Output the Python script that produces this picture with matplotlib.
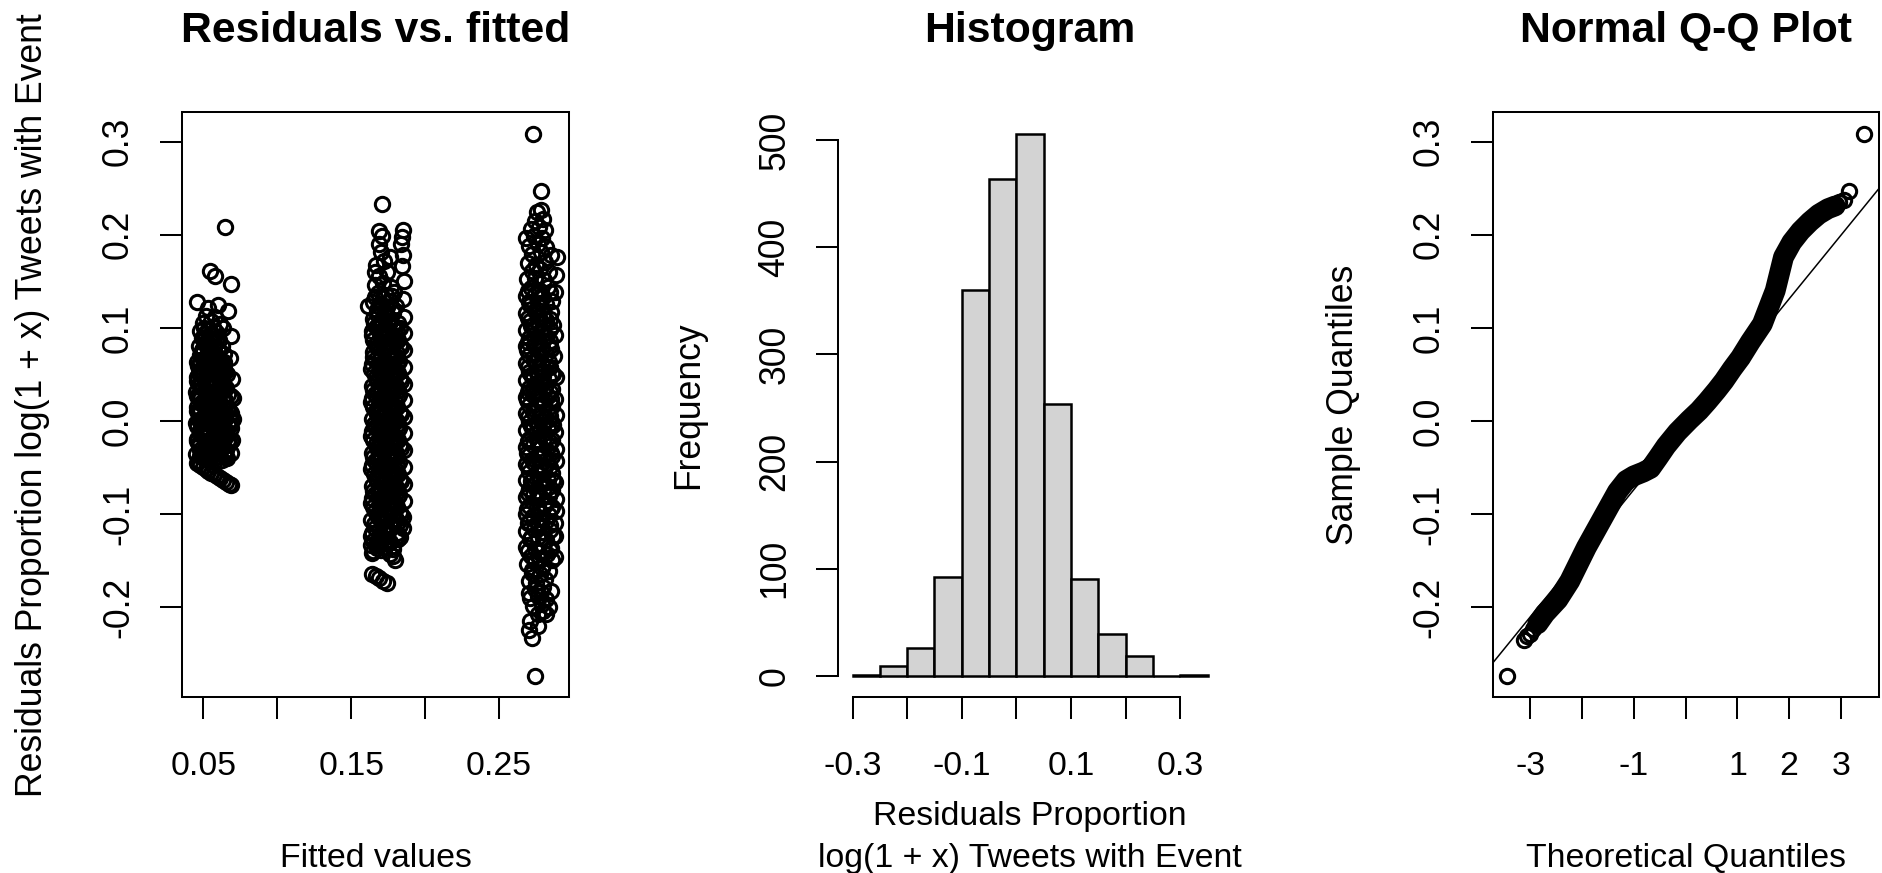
import numpy as np
import matplotlib
matplotlib.use("Agg")
from matplotlib import pyplot as plt

W, H = 1883, 873
DPI = 100

plt.rcParams['font.family'] = ['Liberation Sans', 'DejaVu Sans']
plt.rcParams['axes.unicode_minus'] = False

#Histogram of residuals
hist_breaks = [-0.30, -0.25, -0.20, -0.15, -0.10, -0.05, 0.00, 0.05, 0.10, 0.15, 0.20, 0.25, 0.30, 0.35]
hist_counts = [1, 9, 26, 92, 360, 464, 506, 254, 90, 39, 18, 0, 1]

#Normal Q-Q curve, read along the band of points
qq_theo = [-3.45, -3.13, -3.07, -3.01, -2.95, -2.86, -2.72, -2.47, -2.24, -1.92,
           -1.62, -1.32, -1.15, -1.00, -0.82, -0.68, -0.54, -0.38, -0.16, 0.07,
           0.26, 0.42, 0.60, 0.74, 0.90, 1.06, 1.25, 1.48, 1.73, 1.89,
           2.05, 2.22, 2.40, 2.57, 2.75, 2.89, 2.96, 3.05, 3.15, 3.45]
qq_sample = [-0.2745, -0.235, -0.231, -0.229, -0.224, -0.218, -0.207, -0.192, -0.172, -0.136,
             -0.106, -0.076, -0.064, -0.059, -0.055, -0.051, -0.040, -0.027, -0.012, 0.001,
             0.011, 0.021, 0.033, 0.043, 0.056, 0.068, 0.085, 0.104, 0.140, 0.176,
             0.192, 0.204, 0.214, 0.222, 0.228, 0.231, 0.235, 0.237, 0.247, 0.308]
qq_line_intercept = -0.0054
qq_line_slope = 0.0683

#Residuals vs fitted: (fitted, residual) for the three groups
low_pts = [
    (0.0465, -0.043), (0.0515, -0.041), (0.0570, -0.044), (0.0625, -0.042), (0.0660, -0.040),
    (0.0450, -0.036), (0.0495, -0.034), (0.0545, -0.037), (0.0600, -0.033), (0.0645, -0.036),
    (0.0470, -0.027), (0.0525, -0.029), (0.0575, -0.026), (0.0630, -0.028), (0.0675, -0.025),
    (0.0455, -0.019), (0.0500, -0.017), (0.0550, -0.020), (0.0610, -0.018), (0.0655, -0.016),
    (0.0475, -0.010), (0.0530, -0.012), (0.0585, -0.009), (0.0640, -0.011), (0.0690, -0.008),
    (0.0450, -0.002), (0.0505, -0.001), (0.0560, -0.004), (0.0615, 0.000), (0.0665, -0.003),
    (0.0470, 0.007), (0.0525, 0.005), (0.0580, 0.008), (0.0635, 0.006), (0.0685, 0.009),
    (0.0455, 0.015), (0.0500, 0.017), (0.0555, 0.014), (0.0605, 0.016), (0.0660, 0.013),
    (0.0475, 0.023), (0.0535, 0.021), (0.0590, 0.024), (0.0645, 0.022),
    (0.0450, 0.031), (0.0510, 0.033), (0.0565, 0.030), (0.0620, 0.032), (0.0670, 0.029),
    (0.0470, 0.040), (0.0525, 0.038), (0.0580, 0.041), (0.0635, 0.039),
    (0.0455, 0.047), (0.0500, 0.049), (0.0555, 0.046), (0.0610, 0.048), (0.0660, 0.050),
    (0.0475, 0.055), (0.0530, 0.057), (0.0590, 0.054), (0.0640, 0.056),
    (0.0460, 0.063), (0.0510, 0.062), (0.0565, 0.065), (0.0620, 0.064),
    (0.0480, 0.071), (0.0535, 0.073), (0.0590, 0.070), (0.0640, 0.072),
    (0.0470, 0.080), (0.0520, 0.082), (0.0575, 0.079), (0.0625, 0.081),
    (0.0490, 0.089), (0.0545, 0.087), (0.0600, 0.090),
    (0.0480, 0.097), (0.0530, 0.099), (0.0585, 0.096), (0.0630, 0.100),
    (0.0500, 0.105), (0.0555, 0.107), (0.0610, 0.104),
    (0.0490, -0.039), (0.0545, -0.040), (0.0600, -0.038), (0.0650, -0.039),
    (0.0480, -0.031), (0.0535, -0.032), (0.0590, -0.030), (0.0655, -0.031),
    (0.0460, -0.022), (0.0515, -0.023), (0.0565, -0.022), (0.0620, -0.024), (0.0670, -0.021),
    (0.0485, -0.014), (0.0540, -0.015), (0.0595, -0.013), (0.0650, -0.014),
    (0.0460, -0.006), (0.0515, -0.007), (0.0570, -0.005), (0.0625, -0.006), (0.0680, -0.004),
    (0.0485, 0.002), (0.0540, 0.003), (0.0595, 0.001), (0.0650, 0.002),
    (0.0460, 0.011), (0.0515, 0.010), (0.0570, 0.012), (0.0620, 0.011), (0.0675, 0.012),
    (0.0485, 0.019), (0.0540, 0.018), (0.0595, 0.020), (0.0650, 0.019),
    (0.0460, 0.027), (0.0520, 0.026), (0.0575, 0.028), (0.0630, 0.026),
    (0.0490, 0.035), (0.0545, 0.036), (0.0600, 0.034), (0.0655, 0.035),
    (0.0460, 0.043), (0.0515, 0.044), (0.0570, 0.042), (0.0625, 0.043),
    (0.0490, 0.051), (0.0545, 0.052), (0.0600, 0.050), (0.0650, 0.053),
    (0.0465, 0.059), (0.0520, 0.060), (0.0575, 0.058), (0.0630, 0.060),
    (0.0495, 0.067), (0.0550, 0.068), (0.0605, 0.066),
    (0.0500, 0.076), (0.0550, 0.077), (0.0605, 0.075),
    (0.0510, 0.093), (0.0565, 0.092), (0.0520, 0.085), (0.0575, 0.084),
    (0.0478, -0.038), (0.0532, -0.036), (0.0588, -0.039), (0.0642, -0.037),
    (0.0468, -0.024), (0.0522, -0.025), (0.0578, -0.023), (0.0632, -0.024), (0.0685, -0.022),
    (0.0478, -0.012), (0.0533, -0.013), (0.0588, -0.011), (0.0643, -0.012),
    (0.0468, 0.001), (0.0523, 0.000), (0.0578, 0.002), (0.0633, 0.001), (0.0686, 0.000),
    (0.0478, 0.013), (0.0533, 0.012), (0.0588, 0.014), (0.0643, 0.013),
    (0.0468, 0.026), (0.0523, 0.025), (0.0578, 0.027), (0.0633, 0.026), (0.0684, 0.027),
    (0.0478, 0.038), (0.0533, 0.037), (0.0588, 0.039), (0.0643, 0.038),
    (0.0468, 0.051), (0.0523, 0.050), (0.0578, 0.052), (0.0633, 0.051),
    (0.0478, 0.063), (0.0533, 0.062), (0.0588, 0.064), (0.0643, 0.063),
    (0.0488, 0.076), (0.0543, 0.075), (0.0598, 0.077),
    (0.0498, 0.088), (0.0553, 0.089), (0.0608, 0.087),
    (0.0508, 0.100), (0.0563, 0.101),
    (0.0455, 0.128), (0.0530, 0.121), (0.0600, 0.125), (0.0670, 0.118), (0.0545, 0.161),
    (0.0580, 0.156), (0.0688, 0.147), (0.0647, 0.208), (0.0690, 0.091), (0.0680, 0.068),
    (0.0695, 0.045), (0.0700, 0.025), (0.0698, 0.002), (0.0695, -0.020), (0.0690, -0.035),
    (0.0520, 0.113), (0.0580, 0.112),
    (0.0455, -0.0455), (0.0475, -0.0475), (0.0495, -0.0495), (0.0515, -0.0515),
    (0.0535, -0.0535), (0.0555, -0.0555), (0.0575, -0.0575), (0.0595, -0.0595),
    (0.0615, -0.0615), (0.0635, -0.0635), (0.0655, -0.0655), (0.0675, -0.0675),
    (0.0690, -0.0690),
]

mid_pts = [
    (0.1640, -0.142), (0.1700, -0.139), (0.1760, -0.143), (0.1795, -0.150),
    (0.1665, -0.133), (0.1720, -0.131), (0.1780, -0.134),
    (0.1635, -0.124), (0.1690, -0.126), (0.1745, -0.122), (0.1805, -0.125),
    (0.1660, -0.115), (0.1715, -0.117), (0.1770, -0.114), (0.1830, -0.112),
    (0.1635, -0.106), (0.1690, -0.104), (0.1745, -0.107), (0.1800, -0.105), (0.1850, -0.103),
    (0.1660, -0.097), (0.1720, -0.099), (0.1775, -0.096), (0.1830, -0.098),
    (0.1635, -0.088), (0.1690, -0.090), (0.1745, -0.087), (0.1800, -0.089), (0.1855, -0.086),
    (0.1660, -0.079), (0.1715, -0.081), (0.1770, -0.078), (0.1825, -0.080),
    (0.1640, -0.070), (0.1695, -0.072), (0.1750, -0.069), (0.1805, -0.071), (0.1855, -0.068),
    (0.1665, -0.061), (0.1720, -0.063), (0.1775, -0.060), (0.1830, -0.062),
    (0.1635, -0.052), (0.1690, -0.054), (0.1745, -0.051), (0.1800, -0.053), (0.1855, -0.050),
    (0.1660, -0.043), (0.1715, -0.045), (0.1770, -0.042), (0.1825, -0.044),
    (0.1640, -0.034), (0.1695, -0.036), (0.1750, -0.033), (0.1805, -0.035), (0.1855, -0.031),
    (0.1665, -0.025), (0.1720, -0.027), (0.1775, -0.024), (0.1830, -0.026),
    (0.1635, -0.016), (0.1690, -0.018), (0.1745, -0.015), (0.1800, -0.017), (0.1855, -0.013),
    (0.1660, -0.007), (0.1715, -0.009), (0.1770, -0.006), (0.1825, -0.008),
    (0.1640, 0.002), (0.1695, 0.000), (0.1750, 0.003), (0.1805, 0.001), (0.1855, 0.004),
    (0.1665, 0.011), (0.1720, 0.009), (0.1775, 0.012), (0.1830, 0.010),
    (0.1635, 0.020), (0.1690, 0.018), (0.1745, 0.021), (0.1800, 0.019), (0.1855, 0.022),
    (0.1660, 0.029), (0.1715, 0.027), (0.1770, 0.030), (0.1825, 0.028),
    (0.1640, 0.038), (0.1695, 0.036), (0.1750, 0.039), (0.1805, 0.037), (0.1855, 0.040),
    (0.1665, 0.047), (0.1720, 0.045), (0.1775, 0.048), (0.1830, 0.046),
    (0.1635, 0.056), (0.1690, 0.054), (0.1745, 0.057), (0.1800, 0.055), (0.1855, 0.058),
    (0.1660, 0.065), (0.1715, 0.063), (0.1770, 0.066), (0.1825, 0.064),
    (0.1645, 0.074), (0.1700, 0.072), (0.1755, 0.075), (0.1810, 0.073), (0.1855, 0.076),
    (0.1665, 0.083), (0.1720, 0.081), (0.1775, 0.084), (0.1830, 0.082),
    (0.1640, 0.092), (0.1695, 0.090), (0.1750, 0.093), (0.1805, 0.091), (0.1855, 0.094),
    (0.1670, 0.101), (0.1725, 0.099), (0.1780, 0.102), (0.1830, 0.100),
    (0.1645, 0.110), (0.1700, 0.108), (0.1755, 0.111), (0.1855, 0.112),
    (0.1675, 0.119), (0.1730, 0.117), (0.1785, 0.120),
    (0.1650, 0.128), (0.1705, 0.126), (0.1760, 0.129), (0.1850, 0.131),
    (0.1680, 0.137), (0.1735, 0.135), (0.1790, 0.138),
    (0.1660, 0.146), (0.1715, 0.148), (0.1770, 0.144), (0.1855, 0.150),
    (0.1650, -0.129), (0.1705, -0.128), (0.1760, -0.130), (0.1815, -0.127),
    (0.1652, -0.111), (0.1707, -0.110), (0.1762, -0.112), (0.1817, -0.109),
    (0.1648, -0.093), (0.1703, -0.094), (0.1758, -0.092), (0.1813, -0.093),
    (0.1650, -0.075), (0.1705, -0.076), (0.1760, -0.074), (0.1815, -0.075),
    (0.1652, -0.057), (0.1707, -0.058), (0.1762, -0.056), (0.1817, -0.057),
    (0.1648, -0.039), (0.1703, -0.040), (0.1758, -0.038), (0.1813, -0.039),
    (0.1650, -0.021), (0.1705, -0.022), (0.1760, -0.020), (0.1815, -0.021),
    (0.1652, -0.003), (0.1707, -0.004), (0.1762, -0.002), (0.1817, -0.003),
    (0.1648, 0.015), (0.1703, 0.014), (0.1758, 0.016), (0.1813, 0.015),
    (0.1650, 0.033), (0.1705, 0.032), (0.1760, 0.034), (0.1815, 0.033),
    (0.1652, 0.051), (0.1707, 0.050), (0.1762, 0.052), (0.1817, 0.051),
    (0.1648, 0.069), (0.1703, 0.068), (0.1758, 0.070), (0.1813, 0.069),
    (0.1650, 0.087), (0.1705, 0.086), (0.1760, 0.088), (0.1815, 0.087),
    (0.1652, 0.105), (0.1707, 0.104), (0.1762, 0.106), (0.1817, 0.105),
    (0.1690, 0.123), (0.1745, 0.122), (0.1800, 0.124),
    (0.1672, -0.137), (0.1728, -0.136), (0.1785, -0.138),
    (0.1642, -0.120), (0.1697, -0.121), (0.1752, -0.119), (0.1808, -0.120),
    (0.1672, -0.101), (0.1728, -0.102), (0.1785, -0.100), (0.1840, -0.101),
    (0.1642, -0.083), (0.1697, -0.084), (0.1752, -0.082), (0.1808, -0.083),
    (0.1672, -0.065), (0.1728, -0.066), (0.1785, -0.064), (0.1840, -0.065),
    (0.1642, -0.047), (0.1697, -0.048), (0.1752, -0.046), (0.1808, -0.047),
    (0.1672, -0.029), (0.1728, -0.030), (0.1785, -0.028), (0.1840, -0.029),
    (0.1642, -0.011), (0.1697, -0.012), (0.1752, -0.010), (0.1808, -0.011),
    (0.1672, 0.007), (0.1728, 0.006), (0.1785, 0.008), (0.1840, 0.007),
    (0.1642, 0.025), (0.1697, 0.024), (0.1752, 0.026), (0.1808, 0.025),
    (0.1672, 0.043), (0.1728, 0.042), (0.1785, 0.044), (0.1840, 0.043),
    (0.1642, 0.061), (0.1697, 0.060), (0.1752, 0.062), (0.1808, 0.061),
    (0.1672, 0.079), (0.1728, 0.078), (0.1785, 0.080), (0.1840, 0.079),
    (0.1642, 0.097), (0.1697, 0.096), (0.1752, 0.098), (0.1808, 0.097),
    (0.1672, 0.115), (0.1728, 0.114), (0.1785, 0.116),
    (0.1662, 0.133), (0.1718, 0.132), (0.1775, 0.134),
    (0.1690, 0.156), (0.1740, 0.160), (0.1845, 0.166), (0.1670, 0.167), (0.1720, 0.172),
    (0.1850, 0.178), (0.1700, 0.181), (0.1690, 0.190), (0.1710, 0.199), (0.1690, 0.204),
    (0.1840, 0.190), (0.1845, 0.198), (0.1850, 0.205), (0.1710, 0.233), (0.1615, 0.124),
    (0.1760, 0.176), (0.1660, 0.160),
    (0.1635, -0.133), (0.1650, -0.140), (0.1780, -0.145), (0.1830, -0.125), (0.1850, -0.115),
    (0.1640, -0.164), (0.1665, -0.167), (0.1690, -0.169), (0.1715, -0.172), (0.1740, -0.174),
]

high_pts = [
    (0.2760, -0.208), (0.2800, -0.204),
    (0.2730, -0.199), (0.2790, -0.197), (0.2840, -0.200),
    (0.2710, -0.190), (0.2765, -0.188), (0.2815, -0.191),
    (0.2740, -0.181), (0.2800, -0.179), (0.2850, -0.183),
    (0.2700, -0.172), (0.2750, -0.174), (0.2810, -0.170),
    (0.2725, -0.163), (0.2780, -0.165), (0.2835, -0.161),
    (0.2690, -0.154), (0.2745, -0.152), (0.2800, -0.155), (0.2855, -0.150),
    (0.2715, -0.145), (0.2770, -0.147), (0.2825, -0.143), (0.2875, -0.146),
    (0.2685, -0.136), (0.2740, -0.138), (0.2795, -0.134), (0.2850, -0.137),
    (0.2710, -0.127), (0.2765, -0.125), (0.2820, -0.128), (0.2880, -0.124),
    (0.2680, -0.118), (0.2735, -0.116), (0.2790, -0.119), (0.2845, -0.117),
    (0.2705, -0.109), (0.2760, -0.111), (0.2815, -0.108), (0.2875, -0.110),
    (0.2680, -0.100), (0.2730, -0.102), (0.2785, -0.099), (0.2840, -0.101), (0.2885, -0.097),
    (0.2705, -0.091), (0.2755, -0.093), (0.2810, -0.090), (0.2860, -0.092),
    (0.2680, -0.082), (0.2730, -0.080), (0.2785, -0.083), (0.2835, -0.081), (0.2885, -0.084),
    (0.2705, -0.073), (0.2755, -0.075), (0.2805, -0.072), (0.2860, -0.074),
    (0.2680, -0.064), (0.2730, -0.062), (0.2780, -0.065), (0.2830, -0.063), (0.2880, -0.066),
    (0.2705, -0.055), (0.2755, -0.057), (0.2805, -0.054), (0.2855, -0.056),
    (0.2680, -0.046), (0.2730, -0.044), (0.2780, -0.047), (0.2830, -0.045), (0.2885, -0.043),
    (0.2705, -0.037), (0.2755, -0.039), (0.2805, -0.036), (0.2860, -0.038),
    (0.2680, -0.028), (0.2730, -0.026), (0.2780, -0.029), (0.2835, -0.027), (0.2885, -0.030),
    (0.2705, -0.019), (0.2755, -0.021), (0.2805, -0.018), (0.2855, -0.020),
    (0.2680, -0.010), (0.2730, -0.008), (0.2780, -0.011), (0.2830, -0.009), (0.2880, -0.012),
    (0.2705, -0.001), (0.2755, -0.003), (0.2805, 0.000), (0.2860, -0.002),
    (0.2680, 0.008), (0.2730, 0.010), (0.2785, 0.007), (0.2835, 0.009), (0.2885, 0.006),
    (0.2705, 0.017), (0.2755, 0.015), (0.2805, 0.018), (0.2855, 0.016),
    (0.2680, 0.026), (0.2730, 0.028), (0.2780, 0.025), (0.2830, 0.027), (0.2880, 0.024),
    (0.2705, 0.035), (0.2755, 0.033), (0.2810, 0.036), (0.2860, 0.034),
    (0.2680, 0.044), (0.2730, 0.046), (0.2785, 0.043), (0.2835, 0.045), (0.2885, 0.047),
    (0.2705, 0.053), (0.2755, 0.051), (0.2805, 0.054), (0.2855, 0.052),
    (0.2680, 0.062), (0.2735, 0.064), (0.2790, 0.061), (0.2840, 0.063),
    (0.2705, 0.071), (0.2760, 0.069), (0.2815, 0.072), (0.2870, 0.070),
    (0.2680, 0.080), (0.2735, 0.082), (0.2790, 0.079), (0.2845, 0.081),
    (0.2705, 0.089), (0.2760, 0.087), (0.2815, 0.090), (0.2875, 0.092),
    (0.2680, 0.098), (0.2735, 0.100), (0.2790, 0.097), (0.2845, 0.099),
    (0.2710, 0.107), (0.2765, 0.105), (0.2820, 0.108),
    (0.2685, 0.116), (0.2740, 0.118), (0.2795, 0.115), (0.2850, 0.117),
    (0.2710, 0.125), (0.2765, 0.123), (0.2820, 0.126),
    (0.2685, 0.134), (0.2740, 0.136), (0.2800, 0.133), (0.2880, 0.138),
    (0.2715, 0.143), (0.2770, 0.141), (0.2830, 0.144),
    (0.2690, 0.152), (0.2745, 0.154), (0.2805, 0.151), (0.2885, 0.157),
    (0.2720, 0.161), (0.2775, 0.163), (0.2840, 0.160),
    (0.2695, 0.170), (0.2750, 0.168), (0.2810, 0.171), (0.2890, 0.176),
    (0.2725, 0.179), (0.2785, 0.181), (0.2850, 0.178),
    (0.2700, 0.188), (0.2760, 0.190), (0.2815, 0.187),
    (0.2680, 0.197), (0.2735, 0.199), (0.2790, 0.196),
    (0.2715, 0.206), (0.2770, 0.208), (0.2810, 0.205),
    (0.2740, 0.215), (0.2795, 0.217),
    (0.2755, 0.224), (0.2785, 0.227),
    (0.2693, -0.140), (0.2768, -0.141), (0.2843, -0.139),
    (0.2693, -0.110), (0.2768, -0.105), (0.2843, -0.112),
    (0.2693, -0.077), (0.2768, -0.079), (0.2843, -0.076),
    (0.2693, -0.050), (0.2768, -0.051), (0.2843, -0.049),
    (0.2693, -0.022), (0.2768, -0.024), (0.2843, -0.023),
    (0.2693, 0.004), (0.2768, 0.003), (0.2843, 0.005),
    (0.2693, 0.031), (0.2768, 0.030), (0.2843, 0.031),
    (0.2693, 0.058), (0.2768, 0.057), (0.2843, 0.058),
    (0.2693, 0.085), (0.2768, 0.084), (0.2843, 0.086),
    (0.2693, 0.111), (0.2768, 0.112), (0.2843, 0.110),
    (0.2693, 0.140), (0.2768, 0.138), (0.2843, 0.139),
    (0.2718, -0.125), (0.2798, -0.126), (0.2862, -0.124),
    (0.2690, -0.095), (0.2770, -0.096), (0.2850, -0.094),
    (0.2718, -0.065), (0.2798, -0.066), (0.2862, -0.064),
    (0.2690, -0.035), (0.2770, -0.036), (0.2850, -0.034),
    (0.2718, -0.005), (0.2798, -0.006), (0.2862, -0.004),
    (0.2690, 0.022), (0.2770, 0.021), (0.2850, 0.023),
    (0.2718, 0.049), (0.2798, 0.048), (0.2862, 0.050),
    (0.2690, 0.076), (0.2770, 0.075), (0.2850, 0.077),
    (0.2718, 0.102), (0.2798, 0.101), (0.2862, 0.103),
    (0.2700, 0.128), (0.2780, 0.127), (0.2855, 0.129),
    (0.2720, -0.160), (0.2790, -0.158), (0.2700, -0.185), (0.2785, -0.184),
    (0.2787, 0.247), (0.2730, 0.308), (0.2740, -0.274), (0.2700, -0.225),
    (0.2720, -0.233), (0.2710, -0.215), (0.2760, -0.220), (0.2820, -0.207),
]

resid_ticks = [-0.2, -0.1, 0.0, 0.1, 0.2, 0.3]
resid_labels = ['-0.2', '-0.1', '0.0', '0.1', '0.2', '0.3']
fit_ticks = [0.05, 0.10, 0.15, 0.20, 0.25]
fit_labels = ['0.05', '', '0.15', '', '0.25']
hist_xticks = [-0.3, -0.2, -0.1, 0.0, 0.1, 0.2, 0.3]
hist_xlabels = ['-0.3', '', '-0.1', '', '0.1', '', '0.3']
freq_ticks = [0, 100, 200, 300, 400, 500]
theo_ticks = [-3, -2, -1, 0, 1, 2, 3]
theo_labels = ['-3', '', '-1', '', '1', '2', '3']

FS_H = 24.4     # horizontal text
FS_V = 25.6     # rotated text
FS_T = 30.8     # titles
LW = 1.45
TICK = 15.8
MS = 10.3
MEW = 2.2

fig = plt.figure(figsize=(W / DPI, H / DPI), dpi=DPI)

def px_axes(left, top, right, bottom):
	return fig.add_axes([left / W, 1 - bottom / H, (right - left) / W, (bottom - top) / H])

def ftext(x, y, s, **kw):
	fig.text(x / W, 1 - y / H, s, **kw)

def style(ax, xt, xl, yt, yl):
	ax.set_xticks(xt)
	ax.set_xticklabels(xl, fontsize=FS_H, va='center')
	ax.set_yticks(yt)
	ax.set_yticklabels(yl, fontsize=FS_V, rotation=90, va='center', ha='center')
	ax.tick_params(direction='out', length=TICK, width=LW, colors='black')
	ax.tick_params(axis='x', pad=34)
	ax.tick_params(axis='y', pad=30)
	for sp in ax.spines.values():
		sp.set_linewidth(LW)

TOP, BOT = 112.3, 697.3
panels = [(182.0, 569.0), (838.3, 1222.0), (1492.7, 1878.7)]

###################################
#  Residuals vs fitted
###################################
ax1 = px_axes(panels[0][0], TOP, panels[0][1], BOT)
for pts in (low_pts, mid_pts, high_pts):
	f, r = zip(*pts)
	ax1.plot(f, r, 'o', mfc='none', mec='black', ms=MS, mew=MEW, ls='none')
ax1.set_xlim(0.0356, 0.2973)
ax1.set_ylim(-0.297, 0.3316)
style(ax1, fit_ticks, fit_labels, resid_ticks, resid_labels)

###################################
#  Histogram
###################################
ax2 = px_axes(panels[1][0], TOP, panels[1][1], BOT)
ax2.bar(hist_breaks[:-1], hist_counts, width=np.diff(hist_breaks), align='edge',
        color='#d3d3d3', edgecolor='black', linewidth=1.8)
ax2.set_xlim(-0.326, 0.376)
ax2.set_ylim(-20.24, 526.2)
style(ax2, hist_xticks, hist_xlabels, freq_ticks, [str(v) for v in freq_ticks])
ax2.spines['top'].set_visible(False)
ax2.spines['right'].set_visible(False)
ax2.spines['left'].set_bounds(0, 500)
ax2.spines['bottom'].set_bounds(-0.3, 0.3)

###################################
#  Normal Q-Q
###################################
ax3 = px_axes(panels[2][0], TOP, panels[2][1], BOT)
qt = np.array(qq_theo)
qs = np.array(qq_sample)
band = (qt >= -2.86) & (qt <= 2.89)
ax3.plot(qt[band], qs[band], '-', color='black', lw=15,
         solid_capstyle='round', solid_joinstyle='round')
ax3.plot(qt, qs, 'o', mfc='none', mec='black', ms=MS, mew=MEW, ls='none')
ax3.axline((0, qq_line_intercept), slope=qq_line_slope, color='black', lw=1.1)
ax3.set_xlim(-3.73, 3.73)
ax3.set_ylim(-0.297, 0.3316)
style(ax3, theo_ticks, theo_labels, resid_ticks, resid_labels)

#Titles and axis labels
titles = ['Residuals vs. fitted', 'Histogram', 'Normal Q-Q Plot']
ylabels = ['Residuals Proportion log(1 + x) Tweets with Event', 'Frequency', 'Sample Quantiles']
for (l, r), t, yl in zip(panels, titles, ylabels):
	cx = (l + r) / 2
	ftext(cx, 42, t, fontsize=FS_T, fontweight='bold', ha='center', va='baseline')
	ftext(l - 149.5, (TOP + BOT) / 2, yl, fontsize=FS_V, rotation=90, ha='center', va='center')

ftext(sum(panels[0]) / 2, 867, 'Fitted values', fontsize=FS_H, ha='center', va='baseline')
ftext(sum(panels[1]) / 2, 825.5, 'Residuals Proportion', fontsize=FS_H, ha='center', va='baseline')
ftext(sum(panels[1]) / 2, 867, 'log(1 + x) Tweets with Event', fontsize=FS_H, ha='center', va='baseline')
ftext(sum(panels[2]) / 2, 867, 'Theoretical Quantiles', fontsize=FS_H, ha='center', va='baseline')

fig.savefig('out.png', dpi=DPI)
